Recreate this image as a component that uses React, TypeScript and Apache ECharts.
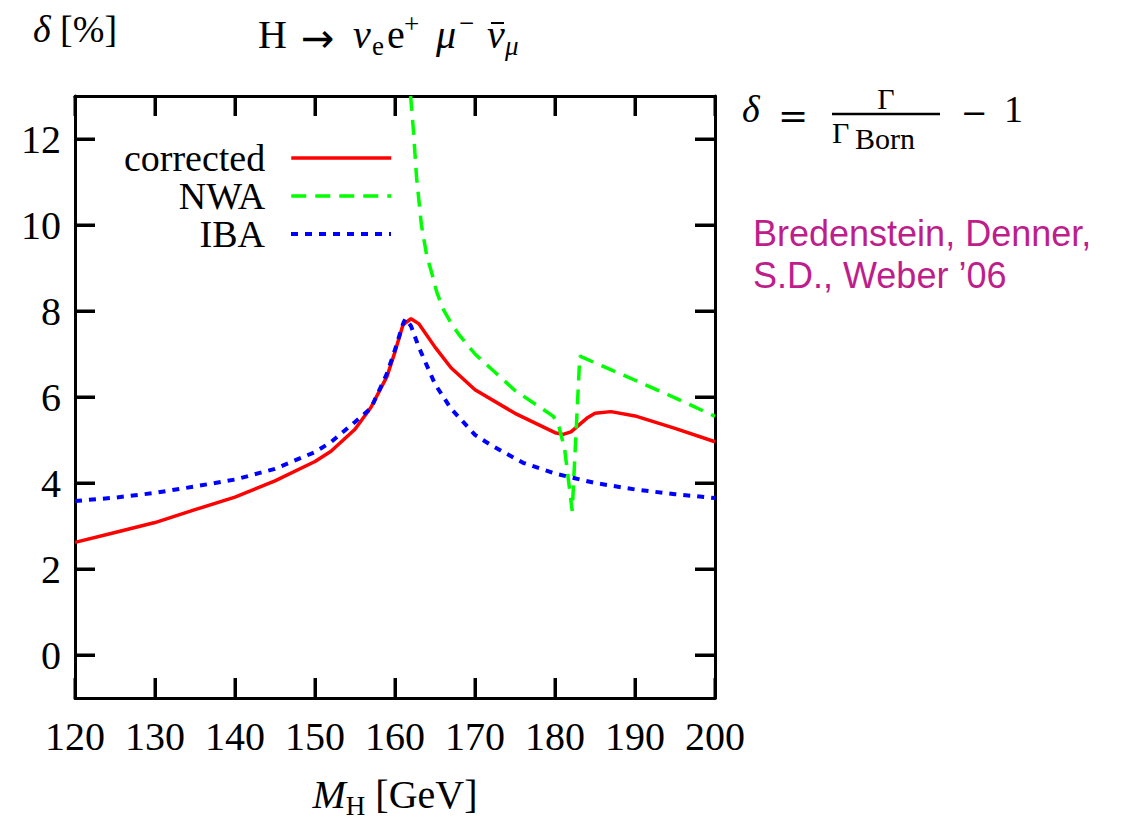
import React, { useEffect, useRef } from "react";
import * as echarts from "echarts";

// Relative correction delta [%] versus Higgs mass M_H [GeV]
const correctedMass = [120, 125, 130, 135, 140, 145, 150, 152, 155, 157, 159, 160, 161, 162, 163, 165, 167, 170, 175, 180, 181, 182, 184, 185, 187, 190, 195, 200];
const correctedDelta = [2.62, 2.85, 3.08, 3.38, 3.67, 4.05, 4.5, 4.74, 5.25, 5.76, 6.48, 7.05, 7.68, 7.82, 7.7, 7.16, 6.68, 6.17, 5.62, 5.17, 5.13, 5.19, 5.51, 5.62, 5.66, 5.56, 5.27, 4.96];

const nwaMass = [161.95, 162.3, 162.7, 163.3, 164.0, 164.5, 165.2, 166, 167, 168, 170, 175, 179.8, 180.5, 181.2, 182.15, 183.1, 190, 195, 200];
const nwaDelta = [13.0, 12.2, 11.1, 10.0, 9.25, 8.95, 8.45, 8.05, 7.72, 7.45, 7.0, 6.15, 5.55, 5.3, 4.8, 3.35, 6.95, 6.39, 5.98, 5.55];

const ibaMass = [120, 125, 130, 135, 140, 145, 150, 152, 155, 157, 159, 160, 161, 161.3, 162, 163, 165, 167, 170, 172, 176, 180, 185, 190, 195, 200];
const ibaDelta = [3.58, 3.66, 3.77, 3.92, 4.08, 4.33, 4.72, 4.95, 5.42, 5.74, 6.55, 7.1, 7.7, 7.82, 7.65, 7.15, 6.3, 5.73, 5.12, 4.88, 4.47, 4.22, 4.0, 3.85, 3.74, 3.65];

// axis ranges and tick values
const xRange = [120, 200];
const xStep = 10;
const xTicks = [120, 130, 140, 150, 160, 170, 180, 190, 200];
const yRange = [-1, 13];
const ySplits = 7;
const yTicks = [0, 2, 4, 6, 8, 10, 12];

const seriesNames = ["corrected", "NWA", "IBA"];
const seriesColors = ["#ff0000", "#00ff00", "#0000ff"];
const seriesWidths = [3.5, 3.5, 4];
const seriesDashes: any[] = ["solid", [15, 9], [7, 7]];

const SERIF = "Liberation Serif";
const WIDE_SERIF = "DejaVu Serif";
const TICK_LEN = 20;

function pairs(xs: number[], ys: number[]) {
  return xs.map((x, i) => [x, ys[i]]);
}

// a single piece of formula text, vertically centred on y
function piece(text: string, x: number, y: number, fontSize: number, opts: any = {}) {
  return {
    type: "text",
    x,
    y,
    style: {
      text,
      fontFamily: opts.fontFamily || SERIF,
      fontStyle: opts.italic ? "italic" : "normal",
      fontSize,
      fill: "#000",
      align: opts.align || "left",
      verticalAlign: "middle",
    },
  };
}

function tickLine(x1: number, y1: number, x2: number, y2: number) {
  return {
    type: "line",
    silent: true,
    shape: { x1, y1, x2, y2 },
    style: { stroke: "#000", lineWidth: 3 },
  };
}

const formulaGraphics = [
  // process: H -> nu_e e+ mu- nubar_mu
  piece("H", 258, 34.5, 40),
  piece("→", 301, 38, 40, { fontFamily: "DejaVu Sans" }),
  piece("ν", 353, 34.5, 40, { italic: true }),
  piece("e", 372, 46, 27),
  piece("e", 387, 34.5, 40),
  piece("+", 404, 23.5, 27),
  piece("μ", 436, 34.5, 40, { italic: true }),
  piece("−", 459, 23, 27),
  piece("ν", 487, 34.5, 40, { italic: true }),
  {
    type: "line",
    shape: { x1: 491, y1: 23, x2: 504, y2: 23 },
    style: { stroke: "#000", lineWidth: 2 },
  },
  piece("μ", 505, 46, 27, { italic: true }),
  // definition of delta
  piece("δ", 742, 109, 38, { italic: true }),
  piece("=", 778, 115, 36, { fontFamily: WIDE_SERIF }),
  piece("Γ", 886, 98.5, 30, { align: "center" }),
  {
    type: "line",
    shape: { x1: 832, y1: 114, x2: 940, y2: 114 },
    style: { stroke: "#000", lineWidth: 2.5 },
  },
  piece("Γ", 832, 132.5, 30),
  piece("Born", 855, 138, 30),
  piece("−", 961, 113, 32, { fontFamily: WIDE_SERIF }),
  piece("1", 1004, 109, 38),
  // citation
  {
    type: "text",
    x: 753,
    y: 212,
    style: {
      text: "Bredenstein, Denner,\nS.D., Weber ’06",
      fontFamily: "Liberation Sans",
      fontSize: 36,
      lineHeight: 42,
      fill: "#be1e8c",
    },
  },
];

export default function App() {
  const ref = useRef<HTMLDivElement>(null);

  useEffect(() => {
    document.body.style.margin = "0";
    if (!ref.current) return;
    const chart = echarts.init(ref.current, undefined, { renderer: "svg" });

    const axisLine = { show: true, onZero: false, lineStyle: { color: "#000", width: 3 } };
    const axisTick = {
      show: true,
      inside: true,
      length: TICK_LEN,
      lineStyle: { color: "#000", width: 3 },
    };
    const tickLabel = {
      fontFamily: SERIF,
      fontSize: 40,
      color: "#000",
    };

    const legendBase = (i: number, top: number) => ({
      data: [seriesNames[i]],
      right: 735,
      top,
      align: "right",
      orient: "vertical",
      padding: 0,
      itemWidth: 100,
      itemHeight: 14,
      selectedMode: false,
      itemStyle: { opacity: 0 },
      lineStyle: { width: seriesWidths[i], type: seriesDashes[i], color: seriesColors[i] },
      textStyle: {
        fontFamily: SERIF,
        fontSize: 38,
        lineHeight: 36,
        color: "#000",
        padding: [0, 21, 0, 0],
      },
    });

    const xBase = {
      type: "value",
      min: xRange[0],
      max: xRange[1],
      interval: xStep,
      axisLine,
      axisTick,
      splitLine: { show: false },
    };
    const yBase = {
      type: "value",
      min: yRange[0],
      max: yRange[1],
      splitNumber: ySplits,
      axisLine,
      axisTick,
      splitLine: { show: false },
    };

    chart.setOption({
      animation: false,
      backgroundColor: "#fff",
      grid: { left: 75, right: 413, top: 96, bottom: 121, outerBoundsMode: "none", containLabel: false },
      legend: [legendBase(0, 139), legendBase(1, 177), legendBase(2, 215)],
      xAxis: [
        {
          ...xBase,
          position: "bottom",
          axisLabel: { ...tickLabel, margin: 18 },
          name: "{i|M}{s|H} [GeV]",
          nameLocation: "middle",
          nameGap: 96,
          nameTextStyle: {
            fontFamily: SERIF,
            fontSize: 40,
            color: "#000",
            lineHeight: 50,
            verticalAlign: "middle",
            rich: {
              i: { fontFamily: SERIF, fontSize: 40, fontStyle: "italic", lineHeight: 50 },
              s: { fontFamily: SERIF, fontSize: 27, lineHeight: 26, verticalAlign: "bottom" },
            },
          },
        },
        { ...xBase, position: "top", axisLabel: { show: false } },
      ],
      yAxis: [
        {
          ...yBase,
          position: "left",
          axisLabel: { ...tickLabel, margin: 14, showMinLabel: false, showMaxLabel: false },
          name: "{i|δ} [%]",
          nameLocation: "end",
          nameGap: 67,
          nameTextStyle: {
            fontFamily: SERIF,
            fontSize: 38,
            color: "#000",
            align: "center",
            verticalAlign: "middle",
            rich: {
              i: { fontFamily: SERIF, fontSize: 38, fontStyle: "italic" },
            },
          },
        },
        { ...yBase, position: "right", axisLabel: { show: false } },
      ],
      series: [0, 1, 2].map((i) => ({
        name: seriesNames[i],
        type: "line",
        symbol: "none",
        clip: true,
        data:
          i === 0
            ? pairs(correctedMass, correctedDelta)
            : i === 1
            ? pairs(nwaMass, nwaDelta)
            : pairs(ibaMass, ibaDelta),
        lineStyle: { color: seriesColors[i], width: seriesWidths[i], type: seriesDashes[i] },
        itemStyle: { color: seriesColors[i] },
      })),
    });

    // inward tick marks on all four sides of the frame, placed through the axis scales
    const px = (v: number) => chart.convertToPixel({ xAxisIndex: 0 }, v) as number;
    const py = (v: number) => chart.convertToPixel({ yAxisIndex: 0 }, v) as number;
    const left = px(xRange[0]);
    const right = px(xRange[1]);
    const top = py(yRange[1]);
    const bottom = py(yRange[0]);
    const ticks: any[] = [];
    xTicks.forEach((v) => {
      const x = px(v);
      ticks.push(tickLine(x, bottom, x, bottom - TICK_LEN));
      ticks.push(tickLine(x, top, x, top + TICK_LEN));
    });
    yTicks.forEach((v) => {
      const y = py(v);
      ticks.push(tickLine(left, y, left + TICK_LEN, y));
      ticks.push(tickLine(right, y, right - TICK_LEN, y));
    });

    chart.setOption({ graphic: [...formulaGraphics, ...ticks] });

    return () => chart.dispose();
  }, []);

  return <div ref={ref} style={{ width: 1128, height: 819 }} />;
}
